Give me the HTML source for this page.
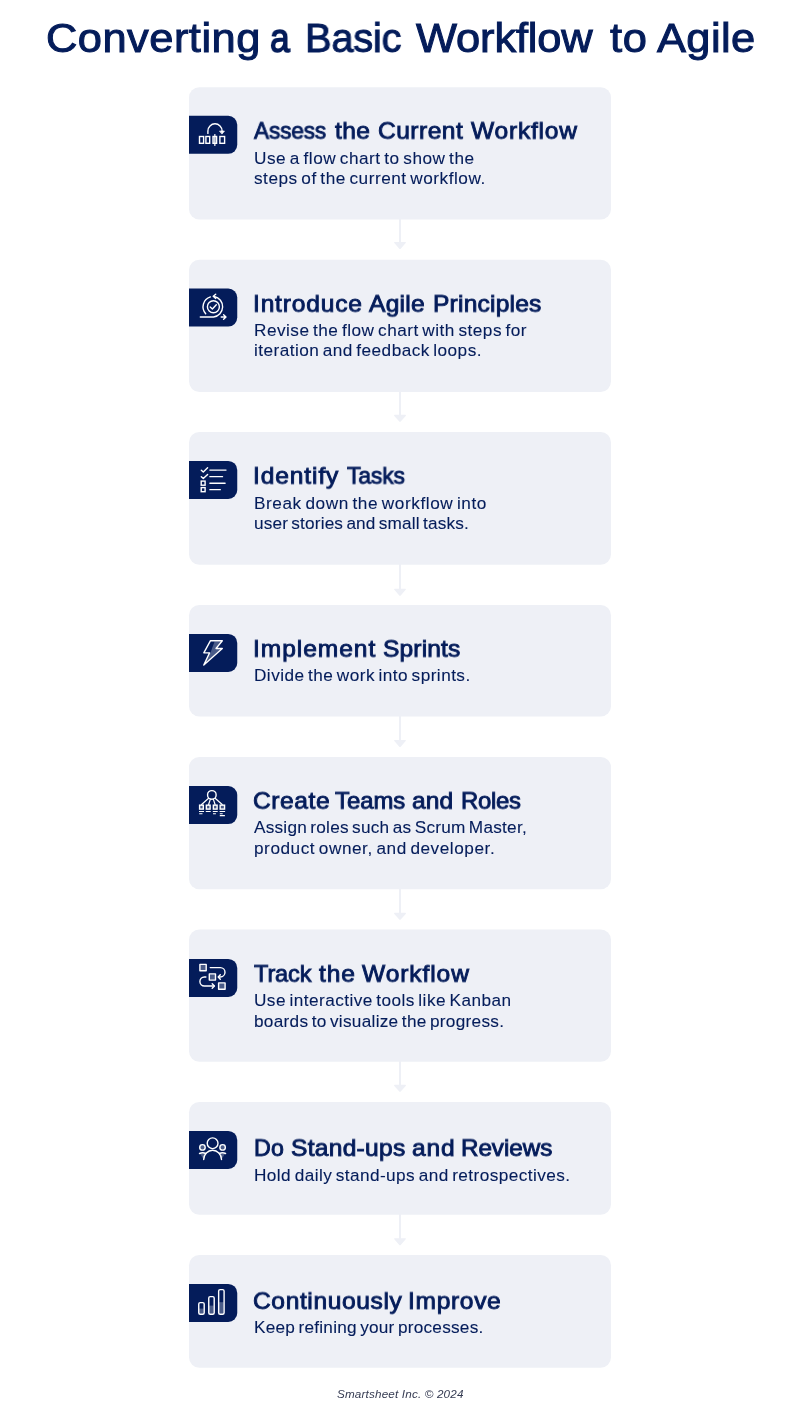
<!DOCTYPE html>
<html lang="en">
<head>
<meta charset="utf-8">
<title>Converting a Basic Workflow to Agile</title>
<style>
html,body{margin:0;padding:0;background:#fff;}
body{width:800px;height:1415px;position:relative;overflow:hidden;font-family:'Liberation Sans', sans-serif;color:#041C5A;}
.art{position:absolute;left:0;top:0;width:800px;height:1415px;display:block;}
h1,h2,p,ol,li,main,header,footer{margin:0;padding:0;font-weight:400;list-style:none;}
.ln{position:absolute;left:0;width:800px;display:block;line-height:1;white-space:nowrap;}
.ln span{position:absolute;top:0;white-space:nowrap;will-change:transform;}
.title{font-size:41.0px;-webkit-text-stroke:1.0px #041C5A;}
.title .ln{height:41.0px;}
.h{font-size:23.2px;-webkit-text-stroke:0.9px #041C5A;}
.h .ln{height:23.2px;}
.b{font-size:16.4px;word-spacing:-1.6px;-webkit-text-stroke:0.1px #041C5A;}
.b .ln{height:16.4px;}
.f{font-size:11.7px;font-style:italic;color:#353b52;}
.f .ln{height:11.7px;}
</style>
</head>
<body>
<svg class="art" viewBox="0 0 800 1415" width="800" height="1415" aria-hidden="true">
<rect x="189" y="87.20" width="422" height="132.30" rx="10.3" fill="#EEF0F6"/>
<path transform="translate(393 218.70)" d="M6 -3 H8 V23.2 H12.2 Q13.5 23.2 12.7 24.3 L7.7 30.0 Q7 30.8 6.3 30.0 L1.3 24.3 Q0.5 23.2 1.8 23.2 H6 Z" fill="#EEF0F6"/>
<rect x="189" y="259.80" width="422" height="132.10" rx="10.3" fill="#EEF0F6"/>
<path transform="translate(393 391.60)" d="M6 -3 H8 V23.2 H12.2 Q13.5 23.2 12.7 24.3 L7.7 30.0 Q7 30.8 6.3 30.0 L1.3 24.3 Q0.5 23.2 1.8 23.2 H6 Z" fill="#EEF0F6"/>
<rect x="189" y="432.10" width="422" height="132.60" rx="10.3" fill="#EEF0F6"/>
<path transform="translate(393 565.50)" d="M6 -3 H8 V23.2 H12.2 Q13.5 23.2 12.7 24.3 L7.7 30.0 Q7 30.8 6.3 30.0 L1.3 24.3 Q0.5 23.2 1.8 23.2 H6 Z" fill="#EEF0F6"/>
<rect x="189" y="605.00" width="422" height="111.50" rx="10.3" fill="#EEF0F6"/>
<path transform="translate(393 716.70)" d="M6 -3 H8 V23.2 H12.2 Q13.5 23.2 12.7 24.3 L7.7 30.0 Q7 30.8 6.3 30.0 L1.3 24.3 Q0.5 23.2 1.8 23.2 H6 Z" fill="#EEF0F6"/>
<rect x="189" y="757.00" width="422" height="132.20" rx="10.3" fill="#EEF0F6"/>
<path transform="translate(393 889.60)" d="M6 -3 H8 V23.2 H12.2 Q13.5 23.2 12.7 24.3 L7.7 30.0 Q7 30.8 6.3 30.0 L1.3 24.3 Q0.5 23.2 1.8 23.2 H6 Z" fill="#EEF0F6"/>
<rect x="189" y="929.40" width="422" height="132.30" rx="10.3" fill="#EEF0F6"/>
<path transform="translate(393 1061.60)" d="M6 -3 H8 V23.2 H12.2 Q13.5 23.2 12.7 24.3 L7.7 30.0 Q7 30.8 6.3 30.0 L1.3 24.3 Q0.5 23.2 1.8 23.2 H6 Z" fill="#EEF0F6"/>
<rect x="189" y="1102.00" width="422" height="112.75" rx="10.3" fill="#EEF0F6"/>
<path transform="translate(393 1215.00)" d="M6 -3 H8 V23.2 H12.2 Q13.5 23.2 12.7 24.3 L7.7 30.0 Q7 30.8 6.3 30.0 L1.3 24.3 Q0.5 23.2 1.8 23.2 H6 Z" fill="#EEF0F6"/>
<rect x="189" y="1255.00" width="422" height="112.75" rx="10.3" fill="#EEF0F6"/>
<g transform="translate(189 115.80)"><path d="M0 0 H39.25 A9.0 9.0 0 0 1 48.25 9.0 V29.00 A9.0 9.0 0 0 1 39.25 38.00 H0 Z" fill="#041C5A"/><g transform="translate(0 -0.3)"><g fill="none" stroke="#fff" stroke-width="1.4" stroke-linecap="round" stroke-linejoin="round" stroke-width="1.35">
 <path d="M18.9 17.9 V15.4 A7.1 7.1 0 0 1 33.1 15.4 V16.4"/>
 <path d="M30.9 15.6 H35.4 L33.15 18.3 Z" fill="#fff" stroke-width="0.8"/>
 <rect x="10.5" y="21.0" width="4.1" height="6.8" stroke-linejoin="miter"/>
 <rect x="16.9" y="21.0" width="3.8" height="6.8" stroke-linejoin="miter"/>
 <rect x="24.0" y="21.0" width="3.6" height="6.8" fill="rgba(255,255,255,0.28)" stroke-linejoin="miter"/>
 <rect x="30.9" y="21.0" width="4.7" height="6.8" stroke-linejoin="miter"/>
 <path d="M25.85 19.0 V29.9" stroke-width="1.2"/>
</g></g></g>
<g transform="translate(189 288.60)"><path d="M0 0 H39.25 A9.0 9.0 0 0 1 48.25 9.0 V29.00 A9.0 9.0 0 0 1 39.25 38.00 H0 Z" fill="#041C5A"/><g transform="translate(0 -0.3)"><g fill="none" stroke="#fff" stroke-width="1.4" stroke-linecap="round" stroke-linejoin="round" stroke-width="1.35">
 <circle cx="24.4" cy="18.5" r="6.0"/>
 <path d="M21.2 18.7 L23.4 20.7 L27.3 16.5"/>
 <path d="M25.3 8.15 A10.45 10.45 0 0 1 24.5 28.75 H11.3"/>
 <path d="M21.4 8.6 A10.4 10.4 0 0 0 16.7 25.45"/>
 <path d="M26.7 6.0 L24.2 8.0 L26.7 10.1"/>
 <path d="M32.2 28.7 H36.6 M34.6 26.5 L37.0 28.7 L34.6 30.9"/>
</g></g></g>
<g transform="translate(189 460.90)"><path d="M0 0 H39.25 A9.0 9.0 0 0 1 48.25 9.0 V29.00 A9.0 9.0 0 0 1 39.25 38.00 H0 Z" fill="#041C5A"/><g transform="translate(0 -0.3)"><g fill="none" stroke="#fff" stroke-width="1.4" stroke-linecap="round" stroke-linejoin="round" stroke-width="1.5">
 <path d="M20.9 9.5 H37.0 M20.9 16.05 H33.5 M20.9 22.6 H36.1 M20.9 29.05 H31.3"/>
 <path d="M12.3 9.6 L14.3 11.5 L18.6 7.2"/>
 <path d="M12.3 16.1 L14.3 18.0 L18.6 13.8"/>
 <rect x="12.2" y="20.5" width="3.9" height="4.1" stroke-width="1.4" stroke-linejoin="miter"/>
 <rect x="12.2" y="27.0" width="3.9" height="4.1" stroke-width="1.4" stroke-linejoin="miter"/>
</g></g></g>
<g transform="translate(189 633.90)"><path d="M0 0 H39.25 A9.0 9.0 0 0 1 48.25 9.0 V29.00 A9.0 9.0 0 0 1 39.25 38.00 H0 Z" fill="#041C5A"/><g transform="translate(0 -0.3)"><g fill="none" stroke="#fff" stroke-width="1.4" stroke-linecap="round" stroke-linejoin="round" stroke-width="1.3" stroke-linejoin="miter">
 <path d="M25.6 8.0 H31.6 L26.2 14.8 L31.4 15.6 L17.0 29.0 L21.6 19.0 L23.0 15.0 Z" fill="rgba(255,255,255,0.28)" stroke="none"/>
 <path d="M21.5 7.1 H33.3 L27.0 14.85 H33.3 L14.8 31.5 L20.6 19.25 H14.8 Z"/>
</g></g></g>
<g transform="translate(189 786.10)"><path d="M0 0 H39.25 A9.0 9.0 0 0 1 48.25 9.0 V29.00 A9.0 9.0 0 0 1 39.25 38.00 H0 Z" fill="#041C5A"/><g transform="translate(0 -0.3)"><g fill="none" stroke="#fff" stroke-width="1.4" stroke-linecap="round" stroke-linejoin="round" stroke-width="1.3">
 <circle cx="22.85" cy="9.1" r="4.3"/>
 <path d="M19.6 12.5 L12.6 18.7 M21.3 13.6 L19.6 18.7 M24.4 13.6 L26.1 18.7 M26.1 12.5 L33.2 18.7" stroke-width="1.2"/>
 <rect x="10.6" y="19.35" width="3.7" height="3.95" fill="rgba(255,255,255,0.28)" stroke-linejoin="miter"/>
 <rect x="17.35" y="19.35" width="3.75" height="3.95" fill="rgba(255,255,255,0.28)" stroke-linejoin="miter"/>
 <rect x="24.35" y="19.35" width="3.75" height="3.95" fill="rgba(255,255,255,0.28)" stroke-linejoin="miter"/>
 <rect x="31.15" y="19.35" width="4.4" height="3.95" fill="rgba(255,255,255,0.28)" stroke-linejoin="miter"/>
 <path d="M10.0 25.75 H15 M16.8 25.75 H21.7 M23.8 25.75 H28.7 M30.6 25.75 H36.1 M10.2 27.9 H13.5 M24.0 27.9 H26.9 M30.8 27.9 H33.7 M30.8 29.85 H35.9" stroke-width="1.1" stroke-linecap="butt"/>
</g></g></g>
<g transform="translate(189 958.90)"><path d="M0 0 H39.25 A9.0 9.0 0 0 1 48.25 9.0 V29.00 A9.0 9.0 0 0 1 39.25 38.00 H0 Z" fill="#041C5A"/><g transform="translate(0 -0.3)"><g fill="none" stroke="#fff" stroke-width="1.4" stroke-linecap="round" stroke-linejoin="round" stroke-width="1.4">
 <rect x="10.9" y="5.8" width="6.3" height="6.3" fill="rgba(255,255,255,0.28)"/>
 <rect x="20.3" y="15.3" width="6.2" height="6.2" fill="rgba(255,255,255,0.28)"/>
 <rect x="29.6" y="24.3" width="6.5" height="6.3" fill="rgba(255,255,255,0.28)"/>
 <path d="M21.2 9.0 H31.3 A4.7 4.7 0 0 1 31.3 18.4 H29.6"/>
 <path d="M31.3 16.2 L29.2 18.4 L31.3 20.6"/>
 <path d="M16.9 18.4 H15.4 A4.5 4.5 0 0 0 15.4 27.4 H25.0"/>
 <path d="M23.2 25.2 L25.4 27.4 L23.2 29.6"/>
</g></g></g>
<g transform="translate(189 1130.90)"><path d="M0 0 H39.25 A9.0 9.0 0 0 1 48.25 9.0 V29.00 A9.0 9.0 0 0 1 39.25 38.00 H0 Z" fill="#041C5A"/><g transform="translate(0 -0.3)"><g fill="none" stroke="#fff" stroke-width="1.4" stroke-linecap="round" stroke-linejoin="round" stroke-width="1.35">
 <path d="M10.9 23.0 L16.4 22.6 L14.7 28.8 Z" fill="rgba(255,255,255,0.28)" stroke="none"/>
 <path d="M36.2 23.0 L30.7 22.6 L32.4 28.8 Z" fill="rgba(255,255,255,0.28)" stroke="none"/>
 <circle cx="23.6" cy="12.65" r="5.4"/>
 <circle cx="13.45" cy="16.8" r="2.75" fill="rgba(255,255,255,0.28)"/>
 <circle cx="33.6" cy="16.8" r="2.75" fill="rgba(255,255,255,0.28)"/>
 <path d="M14.7 29.0 A8.9 9.4 0 0 1 32.5 29.0"/>
 <path d="M10.5 22.9 Q13.6 21.5 16.8 22.9 M30.3 22.9 Q33.5 21.5 36.6 22.9"/>
</g></g></g>
<g transform="translate(189 1283.90)"><path d="M0 0 H39.25 A9.0 9.0 0 0 1 48.25 9.0 V29.00 A9.0 9.0 0 0 1 39.25 38.00 H0 Z" fill="#041C5A"/><g transform="translate(0 -0.3)"><g fill="none" stroke="#fff" stroke-width="1.4" stroke-linecap="round" stroke-linejoin="round" stroke-width="1.25" stroke="rgba(255,255,255,0.93)">
 <rect x="9.9" y="25.0" width="4.8" height="5.2" fill="rgba(255,255,255,0.28)" stroke="none"/>
 <rect x="19.9" y="22.0" width="4.8" height="8.2" fill="rgba(255,255,255,0.28)" stroke="none"/>
 <rect x="29.8" y="18.6" width="4.8" height="11.6" fill="rgba(255,255,255,0.28)" stroke="none"/>
 <rect x="9.75" y="19.0" width="5.45" height="11.6" rx="1.5"/>
 <rect x="19.75" y="13.0" width="5.45" height="17.6" rx="1.5"/>
 <rect x="29.65" y="6.0" width="5.45" height="24.6" rx="1.5"/>
</g></g></g>
</svg>
<main>
<header><h1 class="title"><span class="ln" style="top:18.29px"><span style="left:45.69px;transform:scaleX(1.060);transform-origin:0 0;letter-spacing:0.436px">Converting</span> <span style="left:269.97px;transform:scaleX(0.860);transform-origin:0 0;-webkit-text-stroke-width:1.6px;letter-spacing:0.000px">a</span> <span style="left:304.69px;transform:scaleX(0.970);transform-origin:0 0;letter-spacing:-0.220px">Basic</span> <span style="left:415.54px;transform:scaleX(1.060);transform-origin:0 0;letter-spacing:-0.157px">Workflow</span> <span style="left:609.71px;transform:scaleX(1.060);transform-origin:0 0;letter-spacing:0.620px">to</span> <span style="left:656.52px;transform:scaleX(1.060);transform-origin:0 0;letter-spacing:0.344px">Agile</span></span></h1></header>
<ol class="steps">
<li><h2 class="h"><span class="ln" style="top:120.36px"><span style="left:254.09px;transform:translateY(-0.40px) scale(0.970,0.965);transform-origin:0 19.64px;letter-spacing:-0.088px">Assess</span> <span style="left:335.16px;transform:translateY(-0.40px) scale(1.060,0.965);transform-origin:0 19.64px;letter-spacing:0.270px">the</span> <span style="left:377.64px;transform:translateY(-0.40px) scale(1.060,0.965);transform-origin:0 19.64px;letter-spacing:0.441px">Current</span> <span style="left:471.32px;transform:translateY(-0.40px) scale(1.060,0.965);transform-origin:0 19.64px;letter-spacing:0.703px">Workflow</span></span></h2>
<p class="b"><span class="ln" style="top:150.12px"><span style="left:253.60px;transform:scaleX(1.050);transform-origin:0 0;letter-spacing:0.493px">Use a flow chart to show the</span></span> <span class="ln" style="top:170.12px"><span style="left:253.92px;transform:scaleX(1.050);transform-origin:0 0;letter-spacing:0.493px">steps of the current workflow.</span></span></p></li>
<li><h2 class="h"><span class="ln" style="top:293.36px"><span style="left:253.36px;transform:translateY(-0.40px) scale(1.060,0.965);transform-origin:0 19.64px;letter-spacing:0.756px">Introduce</span> <span style="left:369.27px;transform:translateY(-0.40px) scale(1.060,0.965);transform-origin:0 19.64px;letter-spacing:0.216px">Agile</span> <span style="left:432.60px;transform:translateY(-0.40px) scale(1.060,0.965);transform-origin:0 19.64px;letter-spacing:0.194px">Principles</span></span></h2>
<p class="b"><span class="ln" style="top:322.12px"><span style="left:254.28px;transform:scaleX(1.050);transform-origin:0 0;letter-spacing:0.456px">Revise the flow chart with steps for</span></span> <span class="ln" style="top:342.12px"><span style="left:253.60px;transform:scaleX(1.050);transform-origin:0 0;letter-spacing:0.423px">iteration and feedback loops.</span></span></p></li>
<li><h2 class="h"><span class="ln" style="top:465.36px"><span style="left:253.36px;transform:translateY(-0.40px) scale(1.060,0.965);transform-origin:0 19.64px;letter-spacing:0.829px">Identify</span> <span style="left:347.01px;transform:translateY(-0.40px) scale(0.985,0.965);transform-origin:0 19.64px;letter-spacing:-0.127px">Tasks</span></span></h2>
<p class="b"><span class="ln" style="top:495.12px"><span style="left:254.28px;transform:scaleX(1.050);transform-origin:0 0;letter-spacing:0.538px">Break down the workflow into</span></span> <span class="ln" style="top:515.12px"><span style="left:253.72px;transform:scaleX(1.050);transform-origin:0 0;letter-spacing:0.148px">user stories and small tasks.</span></span></p></li>
<li><h2 class="h"><span class="ln" style="top:638.36px"><span style="left:253.36px;transform:translateY(-0.40px) scale(1.060,0.965);transform-origin:0 19.64px;letter-spacing:0.882px">Implement</span> <span style="left:382.94px;transform:translateY(-0.40px) scale(1.060,0.965);transform-origin:0 19.64px;letter-spacing:0.124px">Sprints</span></span></h2>
<p class="b"><span class="ln" style="top:667.12px"><span style="left:254.28px;transform:scaleX(1.050);transform-origin:0 0;letter-spacing:0.425px">Divide the work into sprints.</span></span></p></li>
<li><h2 class="h"><span class="ln" style="top:790.36px"><span style="left:253.39px;transform:translateY(-0.40px) scale(1.060,0.965);transform-origin:0 19.64px;letter-spacing:0.550px">Create</span> <span style="left:335.26px;transform:translateY(-0.40px) scale(1.030,0.965);transform-origin:0 19.64px;letter-spacing:-0.030px">Teams</span> <span style="left:412.29px;transform:translateY(-0.40px) scale(1.060,0.965);transform-origin:0 19.64px;letter-spacing:0.074px">and</span> <span style="left:460.66px;transform:translateY(-0.40px) scale(1.030,0.965);transform-origin:0 19.64px;letter-spacing:-0.245px">Roles</span></span></h2>
<p class="b"><span class="ln" style="top:819.12px"><span style="left:254.20px;transform:scaleX(1.050);transform-origin:0 0;letter-spacing:0.217px">Assign roles such as Scrum Master,</span></span> <span class="ln" style="top:840.12px"><span style="left:253.60px;transform:scaleX(1.050);transform-origin:0 0;letter-spacing:0.514px">product owner, and developer.</span></span></p></li>
<li><h2 class="h"><span class="ln" style="top:963.36px"><span style="left:254.26px;transform:translateY(-0.40px) scale(1.015,0.965);transform-origin:0 19.64px;letter-spacing:-0.115px">Track</span> <span style="left:319.41px;transform:translateY(-0.40px) scale(1.060,0.965);transform-origin:0 19.64px;letter-spacing:0.747px">the</span> <span style="left:361.82px;transform:translateY(-0.40px) scale(1.060,0.965);transform-origin:0 19.64px;letter-spacing:0.837px">Workflow</span></span></h2>
<p class="b"><span class="ln" style="top:992.12px"><span style="left:253.60px;transform:scaleX(1.050);transform-origin:0 0;letter-spacing:0.418px">Use interactive tools like Kanban</span></span> <span class="ln" style="top:1013.12px"><span style="left:253.60px;transform:scaleX(1.050);transform-origin:0 0;letter-spacing:0.265px">boards to visualize the progress.</span></span></p></li>
<li><h2 class="h"><span class="ln" style="top:1137.36px"><span style="left:253.60px;transform:translateY(-0.20px) scale(1.000,0.965);transform-origin:0 19.64px;letter-spacing:0.149px">Do</span> <span style="left:291.07px;transform:translateY(-0.20px) scale(1.060,0.965);transform-origin:0 19.64px;letter-spacing:0.258px">Stand-ups</span> <span style="left:412.29px;transform:translateY(-0.20px) scale(1.060,0.965);transform-origin:0 19.64px;letter-spacing:0.812px">and</span> <span style="left:461.02px;transform:translateY(-0.20px) scale(1.045,0.965);transform-origin:0 19.64px;letter-spacing:-0.049px">Reviews</span></span></h2>
<p class="b"><span class="ln" style="top:1167.12px"><span style="left:254.28px;transform:scaleX(1.050);transform-origin:0 0;letter-spacing:0.407px">Hold daily stand-ups and retrospectives.</span></span></p></li>
<li><h2 class="h"><span class="ln" style="top:1290.36px"><span style="left:253.34px;transform:translateY(-0.20px) scale(1.060,0.965);transform-origin:0 19.64px;letter-spacing:0.578px">Continuously</span> <span style="left:408.48px;transform:translateY(-0.20px) scale(1.060,0.965);transform-origin:0 19.64px;letter-spacing:0.628px">Improve</span></span></h2>
<p class="b"><span class="ln" style="top:1319.12px"><span style="left:254.28px;transform:scaleX(1.050);transform-origin:0 0;letter-spacing:0.226px">Keep refining your processes.</span></span></p></li>
</ol>
<footer><p class="f"><span class="ln" style="top:1388.10px"><span style="left:336.57px;letter-spacing:0.165px">Smartsheet Inc. © 2024</span></span></p></footer>
</main>
</body>
</html>
